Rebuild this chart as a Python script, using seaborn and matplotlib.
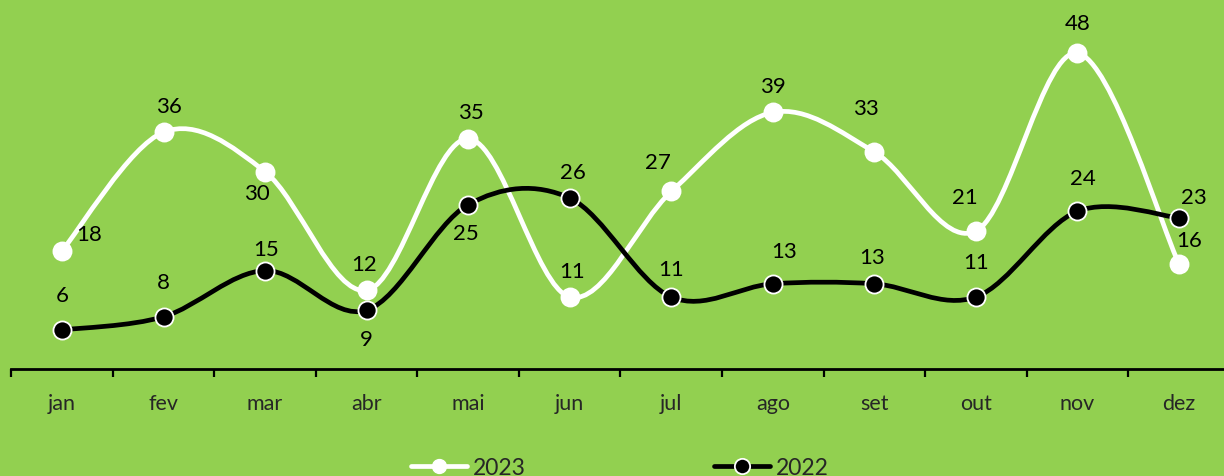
#!/usr/bin/env python3
"""
Monthly comparison 2023 vs 2022 - smoothed line chart on a green background.
"""
import numpy as np
import pandas as pd
import matplotlib
matplotlib.use("Agg")
import matplotlib.pyplot as plt
from matplotlib.path import Path
from matplotlib.patches import PathPatch
from matplotlib.lines import Line2D
import seaborn as sns

# DATA
months = ["jan", "fev", "mar", "abr", "mai", "jun",
          "jul", "ago", "set", "out", "nov", "dez"]
values_2023 = [18, 36, 30, 12, 35, 11, 27, 39, 33, 21, 48, 16]
values_2022 = [6, 8, 15, 9, 25, 26, 11, 13, 13, 11, 24, 23]

# label offsets (pixels) from each point
offsets_2023 = [(27, 17), (5, 26), (-8, -21), (-3, 26), (3, 27), (2, 26),
                (-13, 29), (0, 26), (-8, 44), (-11, 34), (0, 30), (10, 24)]
offsets_2022 = [(0, 35), (0, 35), (1, 22), (0, -29), (-2, -28), (3, 26),
                (0, 28), (11, 33), (-2, 27), (0, 35), (5, 33), (15, 21)]

BG = "#92D050"


def smooth_path(xs, ys):
    # Excel-like smoothing: cubic Bezier segments (Catmull-Rom control points)
    n = len(xs)
    verts = [(xs[0], ys[0])]
    codes = [Path.MOVETO]
    for i in range(n - 1):
        a = i - 1 if i > 0 else i
        d = i + 2 if i + 2 < n else i + 1
        c1 = (xs[i] + (xs[i + 1] - xs[a]) / 6, ys[i] + (ys[i + 1] - ys[a]) / 6)
        c2 = (xs[i + 1] - (xs[d] - xs[i]) / 6, ys[i + 1] - (ys[d] - ys[i]) / 6)
        verts += [c1, c2, (xs[i + 1], ys[i + 1])]
        codes += [Path.CURVE4] * 3
    return Path(verts, codes)


def main():
    sns.set_style("white")
    plt.rcParams['font.family'] = ['Lato', 'DejaVu Sans']

    df = pd.DataFrame({
        "pos": np.arange(len(months)),
        "month": months,
        "2023": values_2023,
        "2022": values_2022,
    })

    fig = plt.figure(figsize=(12.24, 4.77), dpi=100, facecolor=BG)
    ax = fig.add_axes([11.2 / 1224, 0.2233, 1218.6 / 1224, 0.7767])
    ax.set_facecolor(BG)

    series = [
        ("2023", "white", offsets_2023),
        ("2022", "black", offsets_2022),
    ]
    for k, (name, col, offs) in enumerate(series):
        path = smooth_path(df["pos"].to_numpy(float), df[name].to_numpy(float))
        ax.add_patch(PathPatch(path, fill=False, edgecolor=col, lw=3.4,
                               capstyle='round', joinstyle='round', zorder=2 + 2 * k))
        sns.scatterplot(data=df, x="pos", y=name, color=col, s=170,
                        edgecolor="white", linewidth=1.3, ax=ax,
                        zorder=3 + 2 * k, legend=False)
        for x, y, (dx, dy) in zip(df["pos"], df[name], offs):
            ax.annotate(str(y), (x, y), xytext=(dx, dy), textcoords='offset pixels',
                        ha='center', va='center', fontsize=16, color='black',
                        zorder=10)

    # Axes formatting
    ax.set_xlim(-0.5, 11.5)
    ax.set_ylim(0, 56.2)
    ax.set_xticks(np.arange(-0.5, 12, 1))
    ax.set_xticklabels([])
    ax.set_xticks(df["pos"], minor=True)
    ax.set_xticklabels(months, minor=True, fontsize=15.5)
    ax.tick_params(axis='x', which='major', direction='out', length=6, width=1.6,
                   color='black', bottom=True)
    ax.tick_params(axis='x', which='minor', length=0, pad=17)
    ax.set_yticks([])
    ax.set_xlabel("")
    ax.set_ylabel("")
    for side in ["left", "right", "top"]:
        ax.spines[side].set_visible(False)
    ax.spines["bottom"].set_color("black")
    ax.spines["bottom"].set_linewidth(2)
    ax.set_clip_on(False)

    # Legend at the bottom (partly cut off like the original)
    handles = [
        Line2D([], [], color="white", lw=3.4, marker="o", markersize=10,
               markerfacecolor="white", markeredgecolor="white"),
        Line2D([], [], color="black", lw=3.4, marker="o", markersize=11,
               markerfacecolor="black", markeredgecolor="white", markeredgewidth=1.3),
    ]
    fig.legend(handles, ["2023", "2022"], loc='center', ncol=2, frameon=False,
               bbox_to_anchor=(620 / 1224, 8 / 477), fontsize=16.5,
               handlelength=2.45, handletextpad=0.25, columnspacing=8.2)

    fig.savefig("out.png", dpi=100, facecolor=BG)


if __name__ == '__main__':
    main()
